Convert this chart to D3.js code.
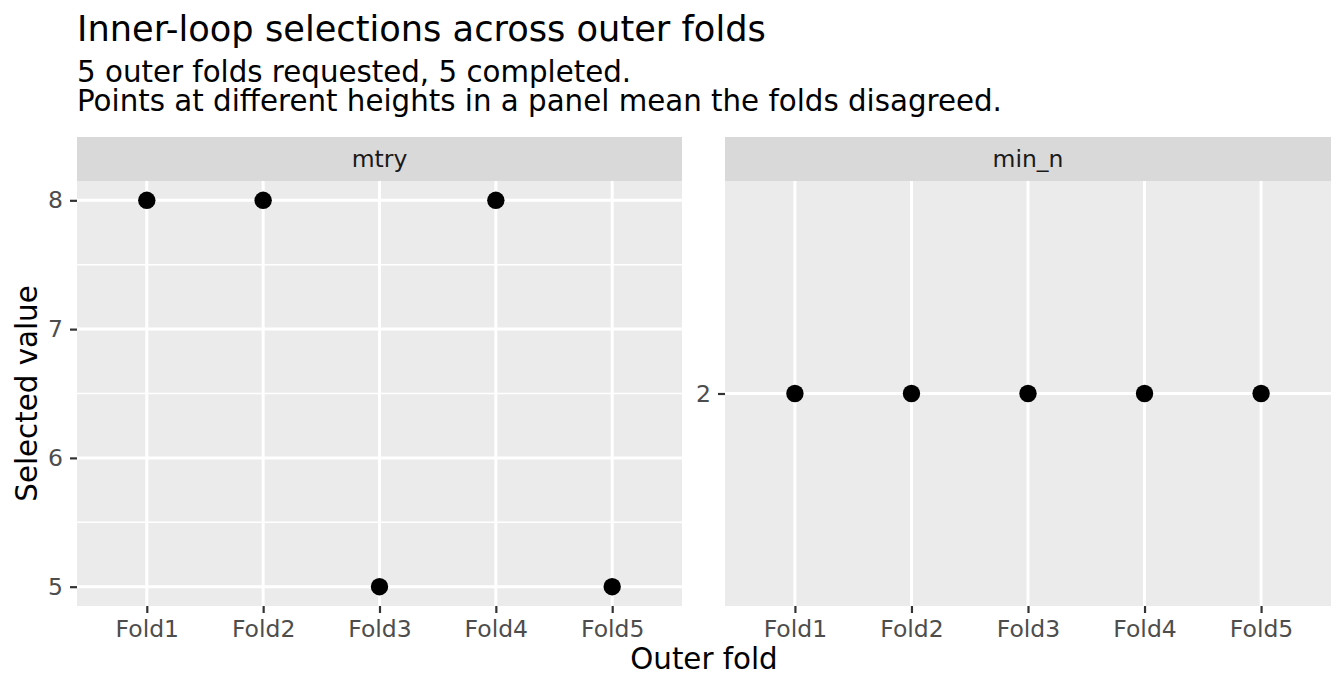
<!DOCTYPE html>
<html><head><meta charset="utf-8">
<script src="https://cdn.jsdelivr.net/npm/d3@7"></script>
<style>body{margin:0;background:#fff;font-family:"DejaVu Sans",sans-serif;}</style>
</head><body>
<svg id="chart" width="1344" height="691"></svg>
<script>
const folds = ["Fold1","Fold2","Fold3","Fold4","Fold5"];
const panels = ["mtry","min_n"];
const mtryValues = [8,8,5,8,5];
const minNValues = [2,2,2,2,2];
const mtryTicks = [5,6,7,8];
const mtryMinor = [5.5,6.5,7.5];
const minNTicks = [2];
const titleText = "Inner-loop selections across outer folds";
const subtitleLines = ["5 outer folds requested, 5 completed.","Points at different heights in a panel mean the folds disagreed."];

(function(){
const svg = d3.select("#chart");
const font = "DejaVu Sans, sans-serif";
const panelTop = 181, panelBottom = 606, stripTop = 137;
const tickFs = 23.5;
const panelDefs = [
  {name: panels[0], x0: 77, x1: 682, values: mtryValues, domain: [4.85, 8.15], ticks: mtryTicks, minor: mtryMinor},
  {name: panels[1], x0: 725, x1: 1331, values: minNValues, domain: [1.9, 2.1], ticks: minNTicks, minor: []}
];

svg.append("text").attr("x",77).attr("y",41).attr("font-family",font).attr("font-size",35.2).attr("fill","#000").text(titleText);
subtitleLines.forEach((t,i)=>{
  svg.append("text").attr("x",77).attr("y",81.5+i*29.3).attr("font-family",font).attr("font-size",29.3).attr("fill","#000").text(t);
});

panelDefs.forEach(p=>{
  const g = svg.append("g");
  const x = d3.scalePoint().domain(folds).range([p.x0,p.x1]).padding(0.6);
  const y = d3.scaleLinear().domain(p.domain).range([panelBottom, panelTop]);
  g.append("rect").attr("x",p.x0).attr("y",panelTop).attr("width",p.x1-p.x0).attr("height",panelBottom-panelTop).attr("fill","#ebebeb");
  g.append("rect").attr("x",p.x0).attr("y",stripTop).attr("width",p.x1-p.x0).attr("height",panelTop-stripTop).attr("fill","#d9d9d9");
  g.append("text").attr("x",(p.x0+p.x1)/2).attr("y",(stripTop+panelTop)/2).attr("dy","0.36em").attr("text-anchor","middle")
    .attr("font-family",font).attr("font-size",tickFs).attr("fill","#1a1a1a").text(p.name);
  p.minor.forEach(v=>{
    g.append("line").attr("x1",p.x0).attr("x2",p.x1).attr("y1",y(v)).attr("y2",y(v)).attr("stroke","#fff").attr("stroke-width",1.5);
  });
  p.ticks.forEach(v=>{
    g.append("line").attr("x1",p.x0).attr("x2",p.x1).attr("y1",y(v)).attr("y2",y(v)).attr("stroke","#fff").attr("stroke-width",3);
  });
  folds.forEach(f=>{
    g.append("line").attr("x1",x(f)).attr("x2",x(f)).attr("y1",panelTop).attr("y2",panelBottom).attr("stroke","#fff").attr("stroke-width",3);
  });
  const xa = g.append("g").attr("transform",`translate(0,${panelBottom})`).call(d3.axisBottom(x).tickSize(7).tickPadding(7));
  xa.select(".domain").remove();
  xa.selectAll("line").attr("stroke","#333").attr("stroke-width",2.2);
  xa.selectAll("text").attr("font-family",font).attr("font-size",tickFs).attr("fill","#4d4d4d");
  const ya = g.append("g").attr("transform",`translate(${p.x0},0)`).call(d3.axisLeft(y).tickValues(p.ticks).tickFormat(d3.format("d")).tickSize(7).tickPadding(7));
  ya.select(".domain").remove();
  ya.selectAll("line").attr("stroke","#333").attr("stroke-width",2.2);
  ya.selectAll("text").attr("font-family",font).attr("font-size",tickFs).attr("fill","#4d4d4d");
  g.selectAll("circle.pt").data(p.values).enter().append("circle").attr("class","pt")
    .attr("cx",(d,i)=>x(folds[i])).attr("cy",d=>y(d)).attr("r",8.7).attr("fill","#000");
});

svg.append("text").attr("x",704).attr("y",668.5).attr("text-anchor","middle").attr("font-family",font).attr("font-size",29.3).attr("fill","#000").text("Outer fold");
svg.append("text").attr("transform","translate(37,393.5) rotate(-90)").attr("text-anchor","middle").attr("font-family",font).attr("font-size",29.3).attr("fill","#000").text("Selected value");
})();
</script>
</body></html>
